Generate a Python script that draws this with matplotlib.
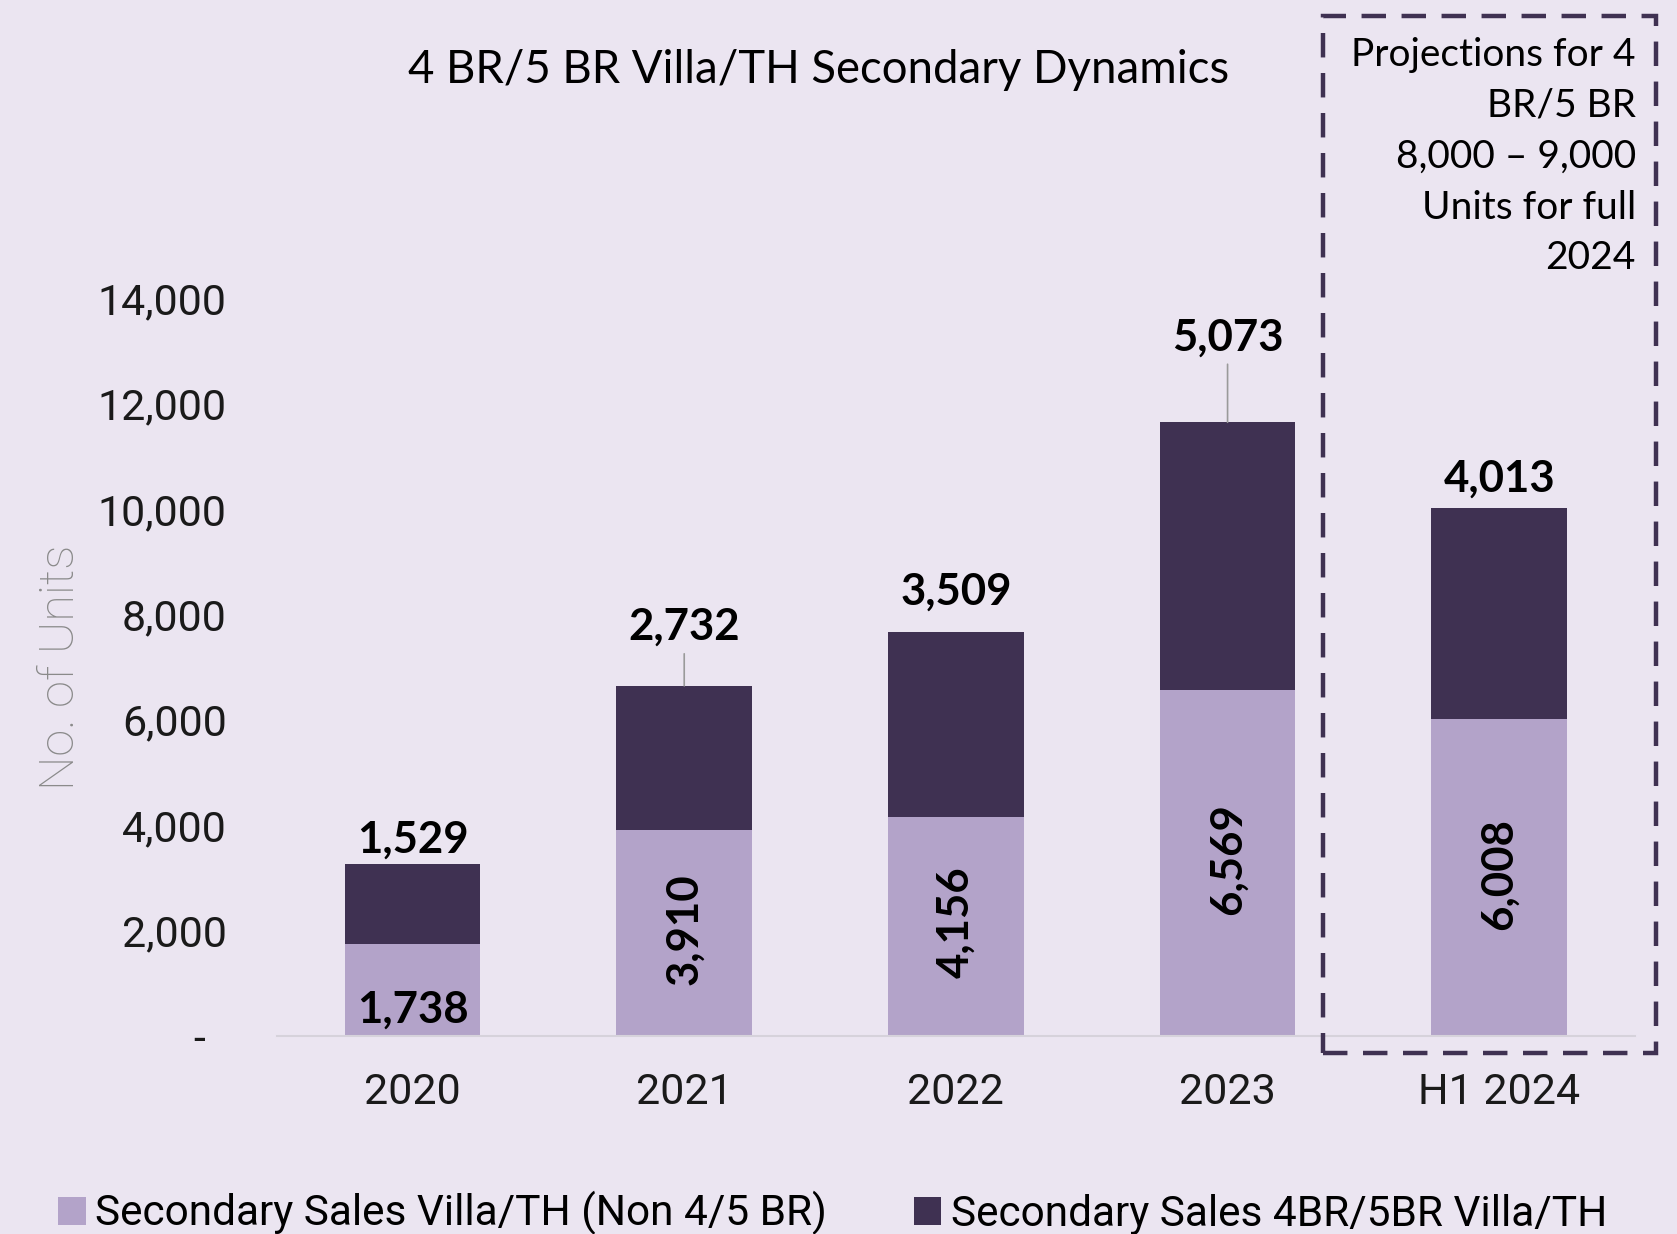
import numpy as np
import matplotlib.pyplot as plt
from matplotlib.patches import Rectangle, Patch

# data
categories = ["2020", "2021", "2022", "2023", "H1 2024"]
non_45br = [1738, 3910, 4156, 6569, 6008]
br_45 = [1529, 2732, 3509, 5073, 4013]
yticks = [0, 2000, 4000, 6000, 8000, 10000, 12000, 14000]
ytick_labels = ["-  ", "2,000", "4,000", "6,000", "8,000", "10,000", "12,000", "14,000"]
series_names = ["Secondary Sales Villa/TH (Non 4/5 BR)", "Secondary Sales 4BR/5BR Villa/TH"]
box_note = "Projections for 4\nBR/5 BR\n8,000 \u2013 9,000\nUnits for full\n2024"

light = "#b3a3c9"
dark = "#3f3152"
bg = "#ebe5f1"
txt_font = "Lato"

fig = plt.figure(figsize=(16.77, 12.34), dpi=100, facecolor=bg)
ax = fig.add_axes([0.165, 0.1605, 0.81, 0.598])
ax.set_facecolor("none")

x = np.arange(len(categories))
ax.bar(x, non_45br, width=0.5, color=light)
ax.bar(x, br_45, width=0.5, bottom=non_45br, color=dark)

ax.set_xlim(-0.5, len(categories) - 0.5)
ax.set_ylim(0, 14000)
for s in ["top", "right", "left"]:
    ax.spines[s].set_visible(False)
ax.spines["bottom"].set_color("#d6d2db")
ax.spines["bottom"].set_linewidth(1.5)

ax.set_yticks(yticks)
ax.set_yticklabels(ytick_labels, family="Roboto", fontsize=31, color="#1a1a1a")
ax.set_xticks(x)
ax.set_xticklabels(categories, family="Roboto", fontsize=31, color="#1a1a1a")
ax.tick_params(axis="y", length=0, pad=36)
ax.tick_params(axis="x", length=0, pad=26)
ax.set_ylabel("No. of Units", family="Roboto", fontweight="light", fontsize=35,
              color="#8a8a8a")
ax.yaxis.set_label_coords(-0.142, 0.5)

# labels on top of the stacks (pixel offsets above the bar top)
top_offsets = [24, 59, 40, 85, 29]
leader = [False, True, False, True, False]
for i in range(len(categories)):
    total = non_45br[i] + br_45[i]
    props = None
    if leader[i]:
        props = dict(arrowstyle="-", color="#9a9a9a", lw=1.2, shrinkA=3, shrinkB=0)
    ax.annotate(f"{br_45[i]:,}", xy=(x[i], total), xytext=(0, top_offsets[i]),
                textcoords="offset pixels", ha="center", va="center",
                family=txt_font, fontweight="bold", fontsize=31.5, color="black",
                arrowprops=props, annotation_clip=False)

# labels inside the lower segment
for i, v in enumerate(non_45br):
    if v < 2000:
        ax.annotate(f"{v:,}", xy=(x[i], v / 2), xytext=(0, -20),
                    textcoords="offset pixels", ha="center", va="center",
                    family=txt_font, fontweight="bold", fontsize=31.5, color="black")
    else:
        ax.annotate(f"{v:,}", xy=(x[i], v / 2), xytext=(0, 4),
                    textcoords="offset pixels", ha="center", va="center", rotation=90,
                    family=txt_font, fontweight="bold", fontsize=31.5, color="black")

fig.text(0.488, 0.943, "4 BR/5 BR Villa/TH Secondary Dynamics", ha="center", va="center",
         family=txt_font, fontsize=32.8, color="black")

# dashed projection box
fig.add_artist(Rectangle((0.789, 0.1467), 0.1985, 0.8403, transform=fig.transFigure,
                         fill=False, edgecolor=dark, lw=3.2, ls=(0, (5.5, 3.5))))
fig.text(0.9755, 0.873, box_note, ha="right", va="center", family=txt_font,
         fontsize=28, color="black", linespacing=1.51)

handles = [Patch(facecolor=light), Patch(facecolor=dark)]
fig.legend(handles, series_names, loc="lower left", bbox_to_anchor=(0.012, -0.032),
           ncol=2, frameon=False, handlelength=0.65, handleheight=0.65, handletextpad=0.22,
           columnspacing=2.05, prop={"family": "Roboto", "size": 30.5})

fig.savefig("out.png", dpi=100, facecolor=bg)
